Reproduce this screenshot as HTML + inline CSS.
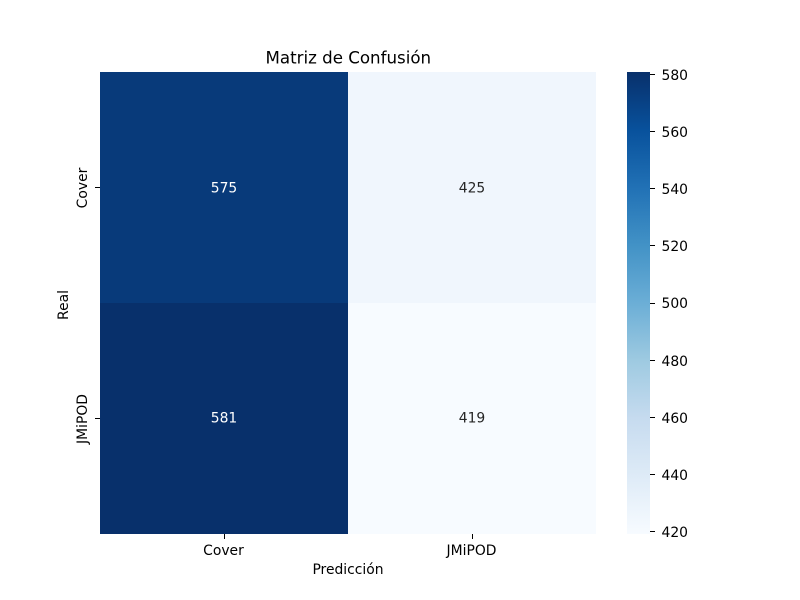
<!DOCTYPE html>
<html>
<head>
<meta charset="utf-8">
<title>Matriz de Confusión</title>
<style>
html,body{margin:0;padding:0;background:#fff;width:800px;height:600px;overflow:hidden}
svg{display:block;font-family:"DejaVu Sans","Liberation Sans",sans-serif}
text{fill:#000}
</style>
</head>
<body>
<svg id="chart" width="800" height="600" viewBox="0 0 800 600" xmlns="http://www.w3.org/2000/svg">
<defs><linearGradient id="cbar-grad" x1="0" y1="1" x2="0" y2="0"></linearGradient></defs>
<rect width="800" height="600" fill="#fff"/>
<g id="cells"></g>
<g id="annots"></g>
<g id="xticks"></g>
<g id="yticks"></g>
<rect id="cbar" x="627" y="72" width="23" height="462" fill="url(#cbar-grad)"/>
<g id="cticks"></g>
<text x="348.3" y="63.5" font-size="16.67" text-anchor="middle">Matriz de Confusión</text>
<text x="348" y="574" font-size="13.89" text-anchor="middle">Predicción</text>
<text transform="translate(68 305) rotate(-90)" font-size="13.89" text-anchor="middle">Real</text>
</svg>
<script>
const xCategories = ['Cover', 'JMiPOD'];
const yCategories = ['Cover', 'JMiPOD'];
const matrixValues = [[575, 425], [581, 419]];
const colorbarTicks = [420, 440, 460, 480, 500, 520, 540, 560, 580];
const blues = ['#f7fbff', '#deebf7', '#c6dbef', '#9ecae1', '#6baed6', '#4292c6', '#2171b5', '#08519c', '#08306b'];

const NS = 'http://www.w3.org/2000/svg';
const plot = { left: 100, right: 596, top: 72, bottom: 534 };
const bar = { left: 627, right: 650, top: 72, bottom: 534 };
const allValues = matrixValues.flat();
const vMin = Math.min(...allValues);
const vMax = Math.max(...allValues);
const cellW = (plot.right - plot.left) / xCategories.length;
const cellH = (plot.bottom - plot.top) / yCategories.length;

function xPos(i) { return plot.left + i * cellW; }
function yPos(i) { return plot.top + i * cellH; }
function barY(v) { return bar.bottom - (v - vMin) / (vMax - vMin) * (bar.bottom - bar.top); }
function snap(p) { return Math.floor(p) + 0.5; }
function roundHalfEven(p) {
  const r = Math.round(p);
  return (Math.abs(p % 1) === 0.5 && r % 2 !== 0) ? r - 1 : r;
}
function hexToRgb(h) { return [1, 3, 5].map(p => parseInt(h.slice(p, p + 2), 16)); }
function colorFor(v) {
  const t = (v - vMin) / (vMax - vMin) * (blues.length - 1);
  const i = Math.min(Math.floor(t), blues.length - 2);
  const f = t - i;
  const a = hexToRgb(blues[i]);
  const b = hexToRgb(blues[i + 1]);
  return 'rgb(' + a.map((c, k) => Math.round(c + (b[k] - c) * f)).join(',') + ')';
}
function make(tag, attrs, parent, content) {
  const el = document.createElementNS(NS, tag);
  for (const k in attrs) el.setAttribute(k, attrs[k]);
  if (content !== undefined) el.textContent = content;
  parent.appendChild(el);
  return el;
}

const grad = document.getElementById('cbar-grad');
blues.forEach((c, i) => {
  make('stop', { offset: i / (blues.length - 1), 'stop-color': c }, grad);
});

const cells = document.getElementById('cells');
const annots = document.getElementById('annots');
matrixValues.forEach((row, r) => {
  row.forEach((v, c) => {
    const rect = make('rect', { x: xPos(c), y: yPos(r), width: cellW, height: cellH, fill: colorFor(v), 'shape-rendering': 'crispEdges' }, cells);
    
    
    const dark = (v - vMin) / (vMax - vMin) > 0.5;
    const label = make('text', { x: xPos(c) + cellW / 2, y: roundHalfEven(yPos(r) + cellH / 2) + 4.5, 'font-size': 13.89, 'text-anchor': 'middle', style: 'fill:' + (dark ? '#ffffff' : '#262626') }, annots, String(v));
    
    
  });
});

const xticks = document.getElementById('xticks');
xCategories.forEach((name, i) => {
  const x = xPos(i) + cellW / 2;
  const tick = make('line', { x1: snap(x), x2: snap(x), y1: plot.bottom, y2: plot.bottom + 5, stroke: '#000', 'stroke-width': 1 }, xticks);
  
  
  const label = make('text', { x: x - 0.5, y: plot.bottom + 21, 'font-size': 13.89, 'text-anchor': 'middle' }, xticks, name);
  
  
});

const yticks = document.getElementById('yticks');
yCategories.forEach((name, i) => {
  const y = yPos(i) + cellH / 2;
  const tick = make('line', { x1: plot.left - 5, x2: plot.left, y1: snap(y), y2: snap(y), stroke: '#000', 'stroke-width': 1 }, yticks);
  
  
  const label = make('text', { transform: 'translate(' + (plot.left - 13) + ' ' + (y + 0.5) + ') rotate(-90)', 'font-size': 13.89, 'text-anchor': 'middle' }, yticks, name);
  
  
});

const cticks = document.getElementById('cticks');
colorbarTicks.forEach(v => {
  const y = barY(v);
  const tick = make('line', { x1: bar.right, x2: bar.right + 5, y1: snap(y), y2: snap(y), stroke: '#000', 'stroke-width': 1 }, cticks);
  
  
  const label = make('text', { x: bar.right + 11.5, y: Math.round(y + 0.47) + 5, 'font-size': 13.89 }, cticks, String(v));
  
  
});
</script>
</body>
</html>
